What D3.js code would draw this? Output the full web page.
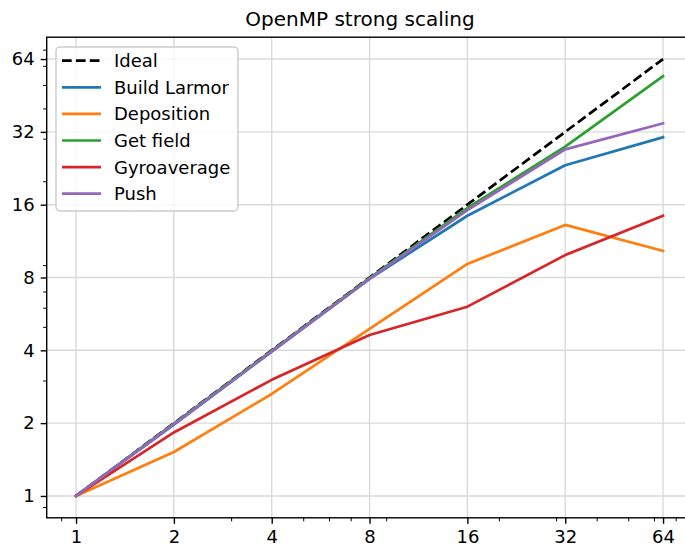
<!DOCTYPE html>
<html>
<head>
<meta charset="utf-8">
<script src="https://cdn.jsdelivr.net/npm/d3@7"></script>
<style>
  html, body { margin: 0; padding: 0; background: #fff; }
  svg { display: block; font-family: "DejaVu Sans", sans-serif; }
</style>
</head>
<body>
<svg id="chart" width="685" height="545"></svg>
<script>
// Thread counts (x) and measured speed-ups per kernel
const threads = [1, 2, 4, 8, 16, 32, 64];
const ideal = [1, 2, 4, 8, 16, 32, 64];
const buildLarmor = [1, 1.97, 3.95, 7.9, 14.4, 23.3, 30.4];
const deposition = [1, 1.52, 2.64, 4.9, 9.1, 13.2, 10.3];
const getField = [1, 1.99, 3.98, 7.95, 15.5, 27.8, 54.4];
const gyroaverage = [1, 1.83, 3.02, 4.63, 6.06, 9.9, 14.4];
const push = [1, 1.98, 3.96, 7.9, 15.2, 27.1, 34.7];

const majorTicks = [1, 2, 4, 8, 16, 32, 64];
const minorTicks = [0.9, 3, 5, 6, 7, 9, 20, 30, 40, 50, 60, 70];

const series = [
  { name: "Ideal", values: ideal, color: "#000000", dash: "9.7,4.2" },
  { name: "Build Larmor", values: buildLarmor, color: "#1f77b4" },
  { name: "Deposition", values: deposition, color: "#ff7f0e" },
  { name: "Get field", values: getField, color: "#2ca02c" },
  { name: "Gyroaverage", values: gyroaverage, color: "#d62728" },
  { name: "Push", values: push, color: "#9467bd" }
];

const svg = d3.select("#chart");
const plotLeft = 46.7, plotRight = 692.4, plotTop = 37.2, plotBottom = 517.8;
const labelSize = 18;

// log2 axes with a 0.3-octave margin on each side
const x = d3.scaleLog().base(2).domain([Math.pow(2, -0.3), Math.pow(2, 6.3)]).range([plotLeft, plotRight]);
const y = d3.scaleLog().base(2).domain([Math.pow(2, -0.3), Math.pow(2, 6.3)]).range([plotBottom, plotTop]);

// grid
const grid = svg.append("g").attr("stroke", "#dadada").attr("stroke-width", 1.4);
grid.selectAll(".gx").data(majorTicks).join("line")
  .attr("x1", d => x(d)).attr("x2", d => x(d)).attr("y1", plotTop).attr("y2", plotBottom);
grid.selectAll(".gy").data(majorTicks).join("line")
  .attr("y1", d => y(d)).attr("y2", d => y(d)).attr("x1", plotLeft).attr("x2", plotRight);

// lines
const line = d3.line().x((d, i) => x(threads[i])).y(d => y(d));
const plot = svg.append("g");
series.forEach(s => {
  plot.append("path")
    .attr("d", line(s.values))
    .attr("fill", "none")
    .attr("stroke", s.color)
    .attr("stroke-width", 2.7)
    .attr("stroke-linejoin", "round")
    .attr("stroke-linecap", s.dash ? "butt" : "square")
    .attr("stroke-dasharray", s.dash || null);
});

// frame
svg.append("rect")
  .attr("x", plotLeft).attr("y", plotTop)
  .attr("width", plotRight - plotLeft).attr("height", plotBottom - plotTop)
  .attr("fill", "none").attr("stroke", "#000").attr("stroke-width", 1.4);

// axes
function styleAxis(g) {
  g.select(".domain").remove();
  g.selectAll(".tick line").attr("stroke", "#000");
  g.selectAll(".tick text").attr("fill", "#000")
    .attr("font-family", "DejaVu Sans, sans-serif").attr("font-size", labelSize);
}
const fmt = d => String(d);

const xMajor = svg.append("g").attr("transform", `translate(0,${plotBottom})`)
  .call(d3.axisBottom(x).tickValues(majorTicks).tickFormat(fmt).tickSize(6).tickPadding(6));
styleAxis(xMajor);
xMajor.selectAll(".tick line").attr("stroke-width", 1.4);

const xMinor = svg.append("g").attr("transform", `translate(0,${plotBottom})`)
  .call(d3.axisBottom(x).tickValues(minorTicks).tickFormat("").tickSize(3.5));
styleAxis(xMinor);
xMinor.selectAll(".tick line").attr("stroke-width", 1.0);

const yMajor = svg.append("g").attr("transform", `translate(${plotLeft},0)`)
  .call(d3.axisLeft(y).tickValues(majorTicks).tickFormat(fmt).tickSize(6).tickPadding(6));
styleAxis(yMajor);
yMajor.selectAll(".tick line").attr("stroke-width", 1.4);

const yMinor = svg.append("g").attr("transform", `translate(${plotLeft},0)`)
  .call(d3.axisLeft(y).tickValues(minorTicks).tickFormat("").tickSize(3.5));
styleAxis(yMinor);
yMinor.selectAll(".tick line").attr("stroke-width", 1.0);

// title
svg.append("text")
  .attr("x", 360).attr("y", 26)
  .attr("text-anchor", "middle")
  .attr("font-size", 20)
  .attr("fill", "#000")
  .text("OpenMP strong scaling");

// legend
const legend = svg.append("g");
legend.append("rect")
  .attr("x", 56).attr("y", 47).attr("width", 182).attr("height", 164)
  .attr("rx", 4).attr("ry", 4)
  .attr("fill", "#fff").attr("fill-opacity", 0.8)
  .attr("stroke", "#cccccc").attr("stroke-width", 1.4);
series.forEach((s, i) => {
  const cy = 60.7 + i * 26.6;
  legend.append("line")
    .attr("x1", 62).attr("x2", 101).attr("y1", cy).attr("y2", cy)
    .attr("stroke", s.color).attr("stroke-width", 2.7)
    .attr("stroke-dasharray", s.dash || null);
  legend.append("text")
    .attr("x", 114).attr("y", cy + 6.5)
    .attr("font-size", labelSize).attr("fill", "#000")
    .text(s.name);
});
</script>
</body>
</html>
